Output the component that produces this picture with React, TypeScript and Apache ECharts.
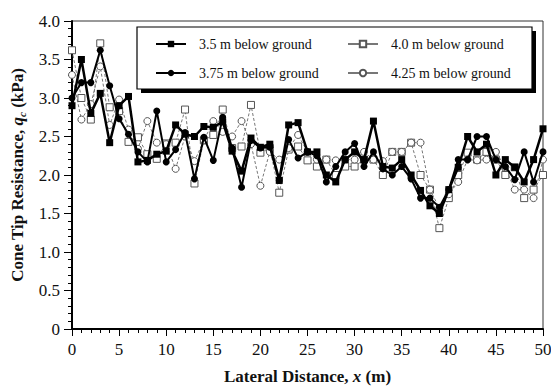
import React, { useEffect, useRef } from "react";
import * as echarts from "echarts";

const distance = [
  0, 1, 2, 3, 4, 5, 6, 7, 8, 9, 10, 11, 12, 13, 14, 15, 16, 17, 18, 19, 20, 21, 22, 23, 24, 25,
  26, 27, 28, 29, 30, 31, 32, 33, 34, 35, 36, 37, 38, 39, 40, 41, 42, 43, 44, 45, 46, 47, 48, 49, 50,
];

const q35 = [
  2.9, 3.5, 2.8, 3.06, 2.42, 2.9, 3.02, 2.17, 2.19, 2.27, 2.31, 2.65, 2.53, 2.5, 2.63, 2.62, 2.69,
  2.31, 2.05, 2.48, 2.36, 2.4, 1.93, 2.65, 2.68, 2.3, 2.3, 2.0, 1.91, 2.2, 2.3, 2.2, 2.7, 2.11,
  2.09, 2.2, 2.0, 1.8, 1.6, 1.5, 1.81, 2.1, 2.5, 2.3, 2.4, 2.0, 2.2, 2.1, 1.91, 2.2, 2.6,
];

const q375 = [
  3.0, 3.2, 3.2, 3.62, 3.16, 2.73, 2.53, 2.3, 2.17, 2.83, 2.17, 2.33, 2.55, 1.95, 2.49, 2.19, 2.75,
  2.35, 1.84, 2.45, 2.35, 2.36, 1.93, 2.46, 2.22, 2.3, 2.25, 1.91, 2.11, 2.3, 2.41, 2.11, 2.3, 2.08,
  2.0, 2.11, 1.95, 1.7, 1.7, 1.58, 1.81, 2.2, 2.2, 2.5, 2.5, 2.2, 2.11, 1.94, 2.3, 1.91, 2.3,
];

const q40 = [
  3.62, 3.0, 2.72, 3.71, 2.88, 2.83, 2.43, 2.49, 2.27, 2.21, 2.41, 2.42, 2.85, 1.89, 2.45, 2.52,
  2.85, 2.35, 2.37, 2.91, 2.29, 2.35, 1.77, 2.33, 2.37, 2.19, 2.11, 2.2, 2.0, 2.11, 2.11, 2.2, 2.2,
  2.0, 2.3, 2.3, 2.42, 2.0, 1.81, 1.31, 1.7, 2.0, 2.29, 2.2, 2.3, 2.2, 2.0, 2.1, 1.7, 1.81, 2.0,
];

const q425 = [
  3.3, 2.72, 2.92, 3.41, 2.65, 2.98, 2.59, 2.34, 2.7, 2.42, 2.4, 2.08, 2.5, 2.18, 2.45, 2.7, 2.56,
  2.5, 2.7, 2.4, 1.86, 2.3, 2.2, 2.35, 2.52, 2.3, 2.2, 2.2, 2.19, 2.2, 2.2, 2.3, 2.2, 2.18, 2.3,
  2.3, 2.42, 2.42, 1.81, 1.57, 1.75, 1.91, 2.2, 2.19, 2.2, 2.3, 2.1, 1.81, 1.81, 1.7, 2.2,
];

const seriesNames = [
  "3.5 m below ground",
  "3.75 m below ground",
  "4.0 m below ground",
  "4.25 m below ground",
];

const SERIF = '"Liberation Serif", "Times New Roman", serif';

const pairs = (vals: number[]) => distance.map((x, i) => [x, vals[i]]);

export default function App() {
  const ref = useRef<HTMLDivElement>(null);
  useEffect(() => {
    if (!ref.current) return;
    const chart = echarts.init(ref.current, null, { renderer: "svg" });
    const legendBase = {
      orient: "horizontal",
      padding: 0,
      itemWidth: 30,
      itemHeight: 8,
      z: 10,
      selectedMode: false,
      textStyle: {
        fontFamily: SERIF,
        fontSize: 14,
        color: "#111",
        padding: [0, 0, 0, 8],
      },
    };
    const option: any = {
      animation: false,
      backgroundColor: "#fff",
      grid: {
        left: 72,
        right: 8,
        top: 21,
        bottom: 58,
        show: true,
        borderColor: "#333",
        borderWidth: 1,
        containLabel: false,
        outerBoundsMode: "none",
      },
      graphic: [
        {
          type: "rect",
          z: 8,
          shape: { x: 141, y: 31, width: 395, height: 62 },
          style: { fill: "#000" },
        },
        {
          type: "rect",
          z: 9,
          shape: { x: 137, y: 27, width: 395, height: 62 },
          style: { fill: "#fff", stroke: "#000", lineWidth: 1.2 },
        },
      ],
      legend: [
        { ...legendBase, data: [seriesNames[0]], left: 155, top: 37 },
        { ...legendBase, data: [seriesNames[2]], left: 347, top: 37, lineStyle: { type: "solid" } },
        { ...legendBase, data: [seriesNames[1]], left: 155, top: 66 },
        { ...legendBase, data: [seriesNames[3]], left: 347, top: 66, lineStyle: { type: "solid" } },
      ],
      xAxis: {
        type: "value",
        min: 0,
        max: 50,
        interval: 5,
        axisLine: { show: true, onZero: false, lineStyle: { color: "#000", width: 2 } },
        axisTick: { show: true, inside: false, length: 7, lineStyle: { color: "#000", width: 1 } },
        minorTick: { show: true, splitNumber: 5, length: 4, lineStyle: { color: "#000", width: 1 } },
        splitLine: { show: false },
        axisLabel: { margin: 12, fontSize: 17, fontFamily: SERIF, color: "#111" },
        name: "{b|Lateral Distance, }{i|x}{b| (m)}",
        nameLocation: "middle",
        nameGap: 39,
        nameTextStyle: {
          rich: {
            b: { fontFamily: SERIF, fontWeight: "bold", fontSize: 17, color: "#111" },
            i: { fontFamily: SERIF, fontWeight: "bold", fontStyle: "italic", fontSize: 17, color: "#111" },
          },
        },
      },
      yAxis: {
        type: "value",
        min: 0,
        max: 4,
        interval: 0.5,
        axisLine: { show: true, onZero: false, lineStyle: { color: "#000", width: 2 } },
        axisTick: { show: true, inside: false, length: 8, lineStyle: { color: "#000", width: 1 } },
        minorTick: { show: true, splitNumber: 5, length: 4, lineStyle: { color: "#000", width: 1 } },
        splitLine: { show: false },
        axisLabel: {
          margin: 12,
          fontSize: 17,
          fontFamily: SERIF,
          color: "#111",
          formatter: (v: number) => (v === 0 ? "0" : v.toFixed(1)),
        },
        name: "{b|Cone Tip Resistance, }{i|q}{s|c}{b| (kPa)}",
        nameLocation: "middle",
        nameRotate: 90,
        nameGap: 40,
        nameTextStyle: {
          rich: {
            b: { fontFamily: SERIF, fontWeight: "bold", fontSize: 17, color: "#111", lineHeight: 20 },
            i: { fontFamily: SERIF, fontWeight: "bold", fontStyle: "italic", fontSize: 17, color: "#111", lineHeight: 20 },
            s: { fontFamily: SERIF, fontWeight: "bold", fontStyle: "italic", fontSize: 11, color: "#111", verticalAlign: "bottom", lineHeight: 11 },
          },
        },
      },
      series: [
        {
          name: seriesNames[2],
          type: "line",
          data: pairs(q40),
          symbol: "rect",
          symbolSize: 7,
          z: 2,
          lineStyle: { color: "#777", width: 1, type: [3, 2] },
          itemStyle: { color: "#fff", borderColor: "#555", borderWidth: 1 },
        },
        {
          name: seriesNames[3],
          type: "line",
          data: pairs(q425),
          symbol: "circle",
          symbolSize: 7,
          z: 2,
          lineStyle: { color: "#777", width: 1, type: [3, 2] },
          itemStyle: { color: "#fff", borderColor: "#555", borderWidth: 1 },
        },
        {
          name: seriesNames[1],
          type: "line",
          data: pairs(q375),
          symbol: "circle",
          symbolSize: 7,
          z: 3,
          lineStyle: { color: "#000", width: 2 },
          itemStyle: { color: "#000" },
        },
        {
          name: seriesNames[0],
          type: "line",
          data: pairs(q35),
          symbol: "rect",
          symbolSize: 7,
          z: 4,
          lineStyle: { color: "#000", width: 2.5 },
          itemStyle: { color: "#000" },
        },
      ],
    };
    chart.setOption(option);
    return () => chart.dispose();
  }, []);
  return <div ref={ref} style={{ width: 551, height: 387, position: "absolute", left: 0, top: 0 }} />;
}
